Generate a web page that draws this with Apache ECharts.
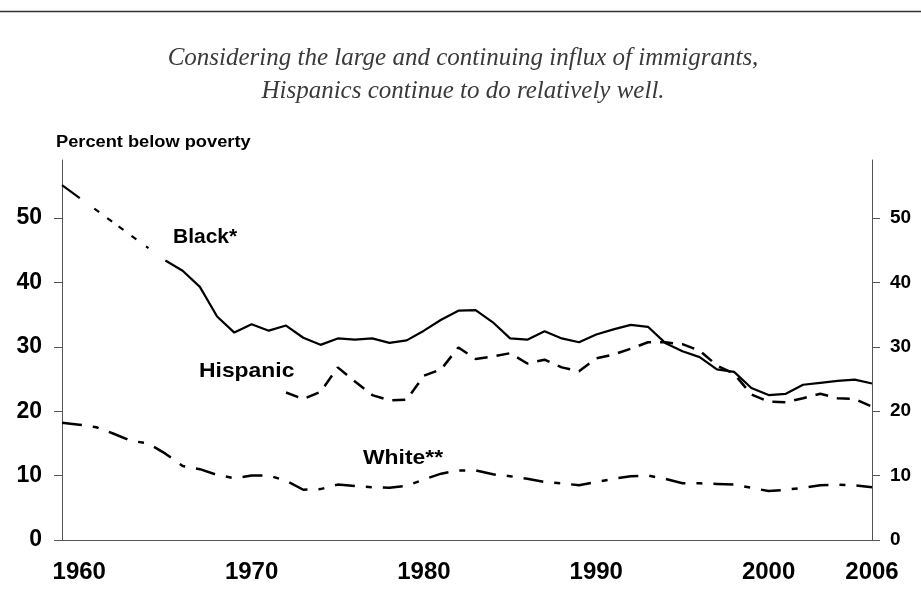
<!DOCTYPE html>
<html>
<head>
<meta charset="utf-8">
<script src="https://cdn.jsdelivr.net/npm/echarts@6/dist/echarts.min.js"></script>
<style>
html,body{margin:0;padding:0;background:#fff;}
#chart{width:921px;height:601px;}
</style>
</head>
<body>
<div id="chart"></div>
<script>
// ---- data ----
var blackYears = [1965,1966,1967,1968,1969,1970,1971,1972,1973,1974,1975,1976,1977,1978,1979,1980,1981,1982,1983,1984,1985,1986,1987,1988,1989,1990,1991,1992,1993,1994,1995,1996,1997,1998,1999,2000,2001,2002,2003,2004,2005,2006];
var blackValues = [43.4,41.8,39.3,34.7,32.2,33.5,32.5,33.3,31.4,30.3,31.3,31.1,31.3,30.6,31.0,32.5,34.2,35.6,35.7,33.8,31.3,31.1,32.4,31.3,30.7,31.9,32.7,33.4,33.1,30.6,29.3,28.4,26.5,26.1,23.6,22.5,22.7,24.1,24.4,24.7,24.9,24.3];
var blackGapYears = [1959,1965];
var blackGapValues = [55.1,43.4];
var hispYears = [1972,1973,1974,1975,1976,1977,1978,1979,1980,1981,1982,1983,1984,1985,1986,1987,1988,1989,1990,1991,1992,1993,1994,1995,1996,1997,1998,1999,2000,2001,2002,2003,2004,2005,2006];
var hispValues = [22.9,21.9,23.0,26.8,24.6,22.5,21.7,21.8,25.5,26.5,29.9,28.1,28.5,29.0,27.4,28.0,26.8,26.2,28.2,28.8,29.7,30.7,30.7,30.4,29.4,27.1,25.8,22.6,21.5,21.4,22.0,22.7,22.0,21.9,20.7];
var whiteYears = [1959,1960,1961,1962,1963,1964,1965,1966,1967,1968,1969,1970,1971,1972,1973,1974,1975,1976,1977,1978,1979,1980,1981,1982,1983,1984,1985,1986,1987,1988,1989,1990,1991,1992,1993,1994,1995,1996,1997,1998,1999,2000,2001,2002,2003,2004,2005,2006];
var whiteValues = [18.2,17.9,17.5,16.5,15.4,15.0,13.4,11.5,11.0,10.1,9.6,10.0,10.0,9.2,7.8,7.9,8.6,8.4,8.2,8.1,8.4,9.4,10.3,10.8,10.8,10.2,9.9,9.5,9.0,8.8,8.5,9.0,9.5,9.9,10.0,9.5,8.8,8.8,8.7,8.6,8.1,7.6,7.8,8.1,8.5,8.6,8.5,8.2];
var xTickLabels = [1960,1970,1980,1990,2000,2006];
var yTickLabels = [0,10,20,30,40,50];
var seriesNames = ['Black*','Hispanic','White**'];
var titleLines = ['Considering the large and continuing influx of immigrants,','Hispanics continue to do relatively well.'];
var yAxisName = 'Percent below poverty';

function pairs(xs, ys){ return xs.map(function(x,i){ return [x, ys[i]]; }); }

var chart = echarts.init(document.getElementById('chart'), null, {renderer:'canvas'});
var axisColor = '#555';
var option = {
  backgroundColor:'#fff',
  animation:false,
  grid:{left:62, right:49, top:160, bottom:61, containLabel:false},
  xAxis:{
    type:'value', min:1959, max:2006,
    axisLine:{show:true, onZero:false, lineStyle:{color:axisColor, width:1}},
    axisTick:{show:false},
    splitLine:{show:false},
    axisLabel:{customValues:xTickLabels, margin:20, formatter:function(v){return String(v);},
      fontFamily:'Liberation Sans', fontWeight:'bold', fontSize:24, color:'#000'}
  },
  yAxis:[{
    type:'value', min:0, max:59, position:'left',
    axisLine:{show:true, lineStyle:{color:axisColor, width:1}},
    axisTick:{show:true, inside:false, length:8, customValues:yTickLabels, lineStyle:{color:axisColor}},
    splitLine:{show:false},
    axisLabel:{customValues:yTickLabels, margin:20, fontFamily:'Liberation Sans', fontWeight:'bold', fontSize:23, color:'#000'}
  },{
    type:'value', min:0, max:59, position:'right',
    axisLine:{show:true, lineStyle:{color:axisColor, width:1}},
    axisTick:{show:true, inside:false, length:8, customValues:yTickLabels, lineStyle:{color:axisColor}},
    splitLine:{show:false},
    axisLabel:{customValues:yTickLabels, margin:18, fontFamily:'Liberation Sans', fontWeight:'bold', fontSize:19, color:'#000'}
  }],
  series:[
    {name:seriesNames[0]+' gap', type:'line', data:pairs(blackGapYears, blackGapValues), showSymbol:false, symbol:'none',
     lineStyle:{color:'#000', width:2.2, type:[22,18,6,10,6,8,6,10,6,12,3,60]}, z:3},
    {name:seriesNames[0], type:'line', data:pairs(blackYears, blackValues), showSymbol:false, symbol:'none',
     lineStyle:{color:'#000', width:2.2, type:'solid'}, z:4},
    {name:seriesNames[1], type:'line', data:pairs(hispYears, hispValues), showSymbol:false, symbol:'none',
     lineStyle:{color:'#000', width:2.5, type:[13,9]}, z:3},
    {name:seriesNames[2], type:'line', data:pairs(whiteYears, whiteValues), showSymbol:false, symbol:'none',
     lineStyle:{color:'#000', width:2.5, type:[20,11,6,11]}, z:3}
  ],
  graphic:[
    {type:'line', shape:{x1:0, y1:11.5, x2:921, y2:11.5}, style:{stroke:'#333', lineWidth:1.5}},
    {type:'text', x:463, y:46, style:{text:titleLines[0], font:'italic 25px "Liberation Serif"', fill:'#3a3a3a', textAlign:'center'}},
    {type:'text', x:463, y:79, style:{text:titleLines[1], font:'italic 25px "Liberation Serif"', fill:'#3a3a3a', textAlign:'center'}},
    {type:'text', x:56, y:135, scaleX:1.14, style:{text:yAxisName, font:'bold 16px "Liberation Sans"', fill:'#000'}},
    {type:'text', x:173, y:227, style:{text:seriesNames[0], font:'bold 21px "Liberation Sans"', fill:'#000'}},
    {type:'text', x:199, y:361, scaleX:1.09, style:{text:seriesNames[1], font:'bold 21px "Liberation Sans"', fill:'#000'}},
    {type:'text', x:363, y:448, scaleX:1.09, style:{text:seriesNames[2], font:'bold 21px "Liberation Sans"', fill:'#000'}}
  ]
};
chart.setOption(option);
</script>
</body>
</html>
